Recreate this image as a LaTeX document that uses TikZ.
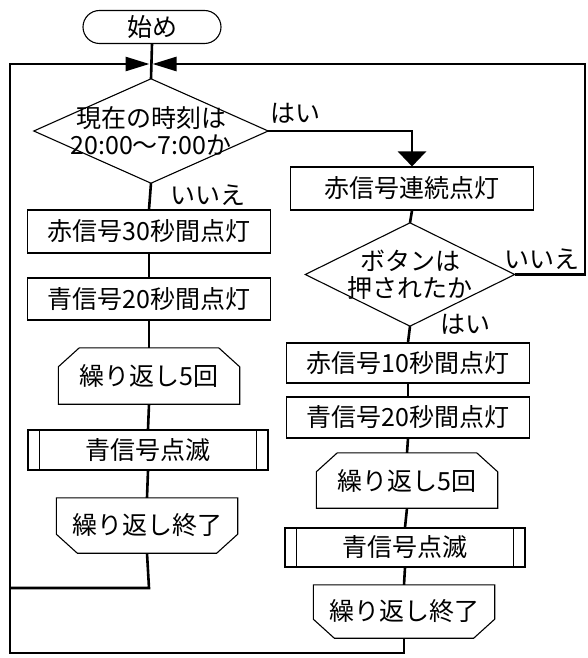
\documentclass[tikz,border=0pt]{standalone}
\usepackage{fontspec}
\setmainfont{Noto Sans CJK JP}
\usetikzlibrary{arrows.meta,calc}
\newcommand\LoopTopShape[1]{\draw[outline] (#1.south west) -- ($(#1.north west)+(0,19)$) -- ($(#1.north west)+(21,0)$) -- ($(#1.north east)+(-21,0)$) -- ($(#1.north east)+(0,19)$) -- (#1.south east) -- cycle;}
\newcommand\LoopEndShape[1]{\draw[outline] (#1.north west) -- (#1.north east) -- ($(#1.south east)+(0,-19)$) -- ($(#1.south east)+(-21,0)$) -- ($(#1.south west)+(21,0)$) -- ($(#1.south west)+(0,-19)$) -- cycle;}
\newcommand\PredefShape[1]{\draw[outline] ($(#1.north west)+(12,0)$) -- ($(#1.south west)+(12,0)$); \draw[outline] ($(#1.north east)+(-12,0)$) -- ($(#1.south east)+(-12,0)$);}
\begin{document}
\begin{tikzpicture}[x=1pt,y=-1pt,
  every node/.style={font=\fontsize{25}{27}\selectfont, inner sep=0pt, align=center},
  outline/.style={line width=1.1pt, line join=miter},
  conn/.style={line width=2.6pt},
  box/.style={draw, outline, minimum width=243pt, minimum height=42pt},
  predef/.style={draw, outline, minimum width=240pt, minimum height=39pt},
  loopnode/.style={minimum width=181pt, minimum height=55pt},
  decnode/.style={minimum width=#1},
  term/.style={draw, outline, rounded corners=16.5pt, minimum width=138pt, minimum height=33pt},
  mergetip/.style={-{Triangle[length=24pt,width=14pt]}},
  yestip/.style={-{Triangle[length=15pt,width=28pt]}}
]
\useasboundingbox (0,0) rectangle (587,658);
\fill[white] (0,0) rectangle (587,658);

% left column
\node[term] (start) at (152,27) {始め};
\node[decnode=234pt, minimum height=104pt] (d1) at (151,131) {現在の時刻は\\20:00〜7:00か};
\draw[outline] (d1.north) -- (d1.east) -- (d1.south) -- (d1.west) -- cycle;
\node[box, minimum height=43pt] (a1) at (149,231.5) {赤信号30秒間点灯};
\node[box] (a2) at (149,299) {青信号20秒間点灯};
\node[loopnode, minimum height=56pt] (a3) at (149,376) {繰り返し5回};
\LoopTopShape{a3}
\node[predef, minimum height=40pt] (a4) at (148,450) {青信号点滅};
\PredefShape{a4}
\node[loopnode] (a5) at (147,525.5) {繰り返し終了};
\LoopEndShape{a5}

% right column
\node[box, minimum height=43pt] (b1) at (412,188.5) {赤信号連続点灯};
\node[decnode=209pt, minimum height=103pt] (d2) at (410,274.5) {ボタンは\\押されたか};
\draw[outline] (d2.north) -- (d2.east) -- (d2.south) -- (d2.west) -- cycle;
\node[box, minimum height=40pt] (b2) at (408,363) {赤信号10秒間点灯};
\node[box, minimum height=41pt] (b3) at (408,417.5) {青信号20秒間点灯};
\node[loopnode] (b4) at (407,480.5) {繰り返し5回};
\LoopTopShape{b4}
\node[predef] (b5) at (405,547.5) {青信号点滅};
\PredefShape{b5}
\node[loopnode, minimum height=53pt] (b6) at (404,611.5) {繰り返し終了};
\LoopEndShape{b6}

% labels
\node (yes1) at (295,113) {はい};
\node (no1) at (208,195) {いいえ};
\node (no2) at (542,259) {いいえ};
\node (yes2) at (465,324) {はい};

% coordinates
\coordinate (m) at (151,64);
\coordinate (lt) at (10,64);
\coordinate (lb) at (10,653);
\coordinate (rt) at (585,64);
\coordinate (aend) at (149,588);

% connectors
\draw[conn] (start.south) -- (d1.north);
\draw[conn] (d1.south) -- (a1.north);
\draw[conn] (a1.south) -- (a2.north);
\draw[conn] (a2.south) -- (a3.north);
\draw[conn] (a3.south) -- (a4.north);
\draw[conn] (a4.south) -- (a5.north);
\draw[conn] (a5.south) -- (aend) -- (aend -| lb);
\draw[conn, yestip] (d1.east) -| (b1.north);
\draw[conn] (b1.south) -- (d2.north);
\draw[conn] (d2.south) -- (b2.north);
\draw[conn] (b2.south) -- (b3.north);
\draw[conn] (b3.south) -- (b4.north);
\draw[conn] (b4.south) -- (b5.north);
\draw[conn] (b5.south) -- (b6.south |- b6.north);
\draw[conn, mergetip] (b6.south) |- (lb) -- (lt) -- ($(m)+(-1.5,0)$);
\draw[conn, mergetip] (d2.east) -| (rt) -- ($(m)+(1.5,0)$);
\end{tikzpicture}
\end{document}
